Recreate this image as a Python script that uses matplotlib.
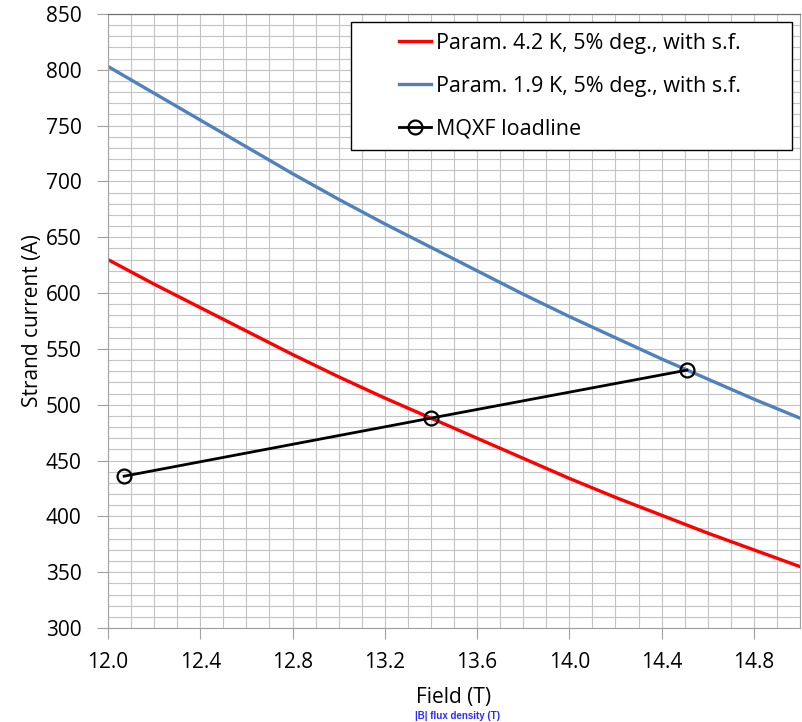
import matplotlib.pyplot as plt
from matplotlib.patches import Rectangle
from matplotlib.ticker import MultipleLocator

plt.rcParams['font.family'] = ['Open Sans', 'DejaVu Sans']

# critical surface parametrisations (strand current vs field)
field = [12.0, 12.2, 12.4, 12.6, 12.8, 13.0, 13.2, 13.4,
         13.6, 13.8, 14.0, 14.2, 14.4, 14.6, 14.8, 15.0]
ic_42K = [630, 608, 587, 566, 545, 525, 506, 488,
          470, 452, 434, 417, 401, 385, 370, 355]
ic_19K = [803, 779, 755, 731, 707, 684, 662, 641,
          620, 599, 579, 560, 541, 523, 505, 488]

# magnet loadline
load_field = [12.07, 13.40, 14.51]
load_current = [436, 488, 531]

fig = plt.figure(figsize=(8.02, 7.22), dpi=100)
ax = fig.add_axes([108 / 802, 1 - 628 / 722, 692 / 802, 614 / 722])

ax.plot(field, ic_42K, color='#ff0000', lw=2.4,
        label='Param. 4.2 K, 5% deg., with s.f.')
ax.plot(field, ic_19K, color='#4f81bd', lw=2.4,
        label='Param. 1.9 K, 5% deg., with s.f.')
ax.plot(load_field, load_current, color='black', lw=2.0, marker='o',
        ms=10, mfc='none', mec='black', mew=1.6, label='MQXF loadline')

ax.set_xlim(12.0, 15.0)
ax.set_ylim(300, 850)
ax.xaxis.set_major_locator(MultipleLocator(0.4))
ax.xaxis.set_minor_locator(MultipleLocator(0.1))
ax.yaxis.set_major_locator(MultipleLocator(50))
ax.yaxis.set_minor_locator(MultipleLocator(10))
ax.xaxis.set_major_formatter(plt.FuncFormatter(lambda v, p: f'{v:.1f}'))

ax.grid(which='both', color='#c4c4c4', lw=0.8)
ax.set_axisbelow(True)
ax.tick_params(which='major', direction='out', length=8, width=0.8,
               color='#a0a0a0', labelsize=15, pad=9)
ax.tick_params(which='minor', length=0)
ax.tick_params(axis='y', pad=11)
for side in ['left', 'bottom', 'right']:
    ax.spines[side].set_color('#a0a0a0')
    ax.spines[side].set_linewidth(0.8)
ax.spines['top'].set_color('#707070')
ax.spines['top'].set_linewidth(0.9)

ax.set_xlabel('Field (T)', fontsize=15, labelpad=10)
ax.set_ylabel('Strand current (A)', fontsize=15, labelpad=2)

fig.text(458 / 802, 1 - 716 / 722, '|B| flux density (T)', color='#2a2aff',
         fontsize=7, fontweight='bold', family='Liberation Sans',
         ha='center', va='center')

# legend frame and entries
fig.patches.append(Rectangle((351 / 802, 1 - 150 / 722), 441 / 802, 128 / 722,
                             transform=fig.transFigure, facecolor='white',
                             edgecolor='black', lw=1.0, zorder=5))
leg = fig.legend(loc='upper left', bbox_to_anchor=(399 / 802, 1 - 33 / 722),
                 frameon=False, fontsize=15.5, handlelength=1.5,
                 handletextpad=0.2, labelspacing=1.02, borderaxespad=0,
                 borderpad=0)
leg.set_zorder(6)

fig.savefig('out.png', dpi=100)
